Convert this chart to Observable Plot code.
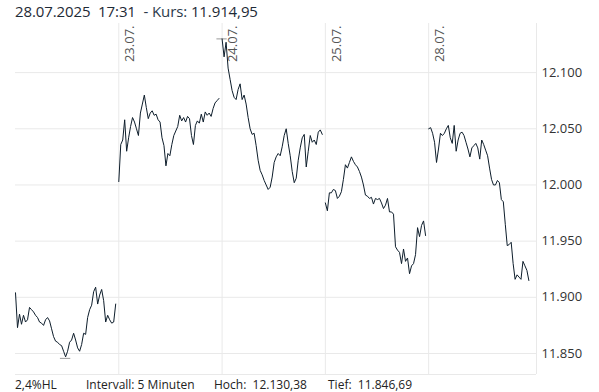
<!DOCTYPE html>
<html><head><meta charset="utf-8">
<script src="https://cdn.jsdelivr.net/npm/d3@7"></script>
<script src="https://cdn.jsdelivr.net/npm/@observablehq/plot@0.6"></script>
<style>
body{margin:0;background:#fff;font-family:"Open Sans",sans-serif;}
#wrap{position:relative;width:599px;height:392px;overflow:hidden;background:#fff}
#title{position:absolute;left:15px;top:0;font-size:15px;color:#1e2a36;white-space:pre;line-height:22px;letter-spacing:-0.1px}
#chart{position:absolute;left:0;top:22px}
.foot{position:absolute;top:377px;font-size:12px;color:#222;white-space:pre;line-height:16px}
</style></head>
<body><div id="wrap"><div id="title"></div><div id="chart"></div><div id="footer"></div></div>
<script>
// ---- data ----
const days = ["22.07.", "23.07.", "24.07.", "25.07.", "28.07."];
const day22 = [11904,11873,11885,11876,11884,11878,11880,11891,11889,11887,11884,11882,11878,11877,11875,11880,11882,11879,11872,11865,11861,11860,11858,11857,11852,11847,11852,11860,11862,11868,11862,11855,11852,11858,11868,11867,11882,11889,11893,11905,11909,11894,11902,11907,11897,11878,11884,11880,11877,11878,11894];
const day23 = [12003,12036,12040,12058,12030,12042,12052,12060,12056,12050,12044,12064,12072,12080,12069,12059,12064,12066,12062,12063,12058,12056,12042,12035,12017,12028,12026,12036,12044,12048,12052,12062,12057,12060,12056,12061,12059,12044,12036,12053,12057,12055,12063,12056,12065,12062,12064,12061,12068,12073,12075,12077];
const day24 = [12130,12114,12127,12104,12094,12084,12078,12076,12085,12090,12076,12080,12072,12060,12050,12045,12046,12035,12022,12013,12009,12004,12000,11996,11998,12007,12020,12025,12028,12026,12034,12044,12050,12037,12026,12012,12002,12006,12022,12033,12042,12045,12016,12030,12044,12038,12040,12036,12047,12049,12045];
const day25 = [11984,11977,11993,11993,11996,11995,11988,11990,11994,12005,12018,12015,12020,12025,12021,12018,12016,12012,12007,12000,11991,11990,11988,11989,11983,11988,11987,11988,11984,11979,11982,11988,11976,11976,11974,11945,11942,11940,11930,11943,11932,11935,11921,11928,11930,11938,11962,11954,11964,11968,11955];
const day28 = [12050,12051,12046,12038,12020,12032,12046,12044,12046,12050,12053,12042,12037,12053,12030,12040,12046,12047,12044,12038,12032,12025,12033,12035,12037,12033,12023,12040,12036,12031,12026,12015,12005,12000,12000,12004,12002,11987,11985,11965,11946,11947,11949,11930,11916,11920,11918,11916,11932,11928,11924,11914.95];
const series = [day22, day23, day24, day25, day28];
const yTicks = [11850, 11900, 11950, 12000, 12050, 12100];
const yDomain = [11831.3, 12143.7];
const xDomain = [0, 5.044];
const titleDate = "28.07.2025  17:31", titleKurs = "  - Kurs: ", lastPrice = "11.914,95";
const footItems = ["2,4%HL", "Intervall: 5 Minuten", "Hoch:  12.130,38", "Tief:  11.846,69"];

// ---- build ----
const de = d3.formatLocale({decimal: ",", thousands: ".", grouping: [3], currency: ["", "€"]});
const fmt = de.format(",.0f");
const rows = series.flatMap((vals, d) => vals.map((v, i) => ({d, x: d + i / (vals.length - 1) * 0.97, v})));
const hiRow = rows.reduce((a, b) => (b.v > a.v ? b : a));
const loRow = rows.reduce((a, b) => (b.v < a.v ? b : a));
const dayIdx = [1, 2, 3, 4];

document.getElementById("title").innerHTML =
  `<span>${titleDate}</span><span style="color:#2b3a4a">${titleKurs}</span><span>${lastPrice}</span>`;

const grid = "#e9e9e9";
const chart = Plot.plot({
  width: 599, height: 354,
  marginTop: 1, marginBottom: 2, marginLeft: 15, marginRight: 63,
  style: {fontFamily: "Open Sans", fontSize: "13px", color: "#333", background: "#fff"},
  x: {domain: xDomain, axis: null},
  y: {domain: yDomain, axis: null},
  marks: [
    Plot.ruleY(yTicks, {stroke: grid}),
    Plot.ruleY([yDomain[0]], {stroke: grid}),
    Plot.ruleX(dayIdx, {stroke: grid}),
    Plot.ruleX([xDomain[1]], {stroke: grid}),
    Plot.axisY({anchor: "right", ticks: yTicks, tickSize: 0, tickPadding: 5, tickFormat: fmt, fontSize: 13, fill: "#333", label: null}),
    Plot.text(dayIdx, {x: d => d, text: d => days[d], frameAnchor: "top", rotate: -90, textAnchor: "end", dx: 6, dy: 2, fontSize: 13, fill: "#555"}),
    Plot.ruleY([hiRow], {y: "v", x1: d => d.x - 0.05, x2: d => d.x + 0.05, stroke: "#9a9a9a"}),
    Plot.ruleY([loRow], {y: "v", x1: d => d.x - 0.05, x2: d => d.x + 0.05, stroke: "#9a9a9a", dy: 1.5}),
    Plot.line(rows, {x: "x", y: "v", z: "d", stroke: "#0d1d2b", strokeWidth: 1})
  ]
});
document.getElementById("chart").appendChild(chart);

const footX = [15, 86, 214, 328];
const footer = document.getElementById("footer");
footItems.forEach((t, i) => {
  const s = document.createElement("div");
  s.className = "foot"; s.style.left = footX[i] + "px"; s.textContent = t;
  footer.appendChild(s);
});
</script>
</body></html>
